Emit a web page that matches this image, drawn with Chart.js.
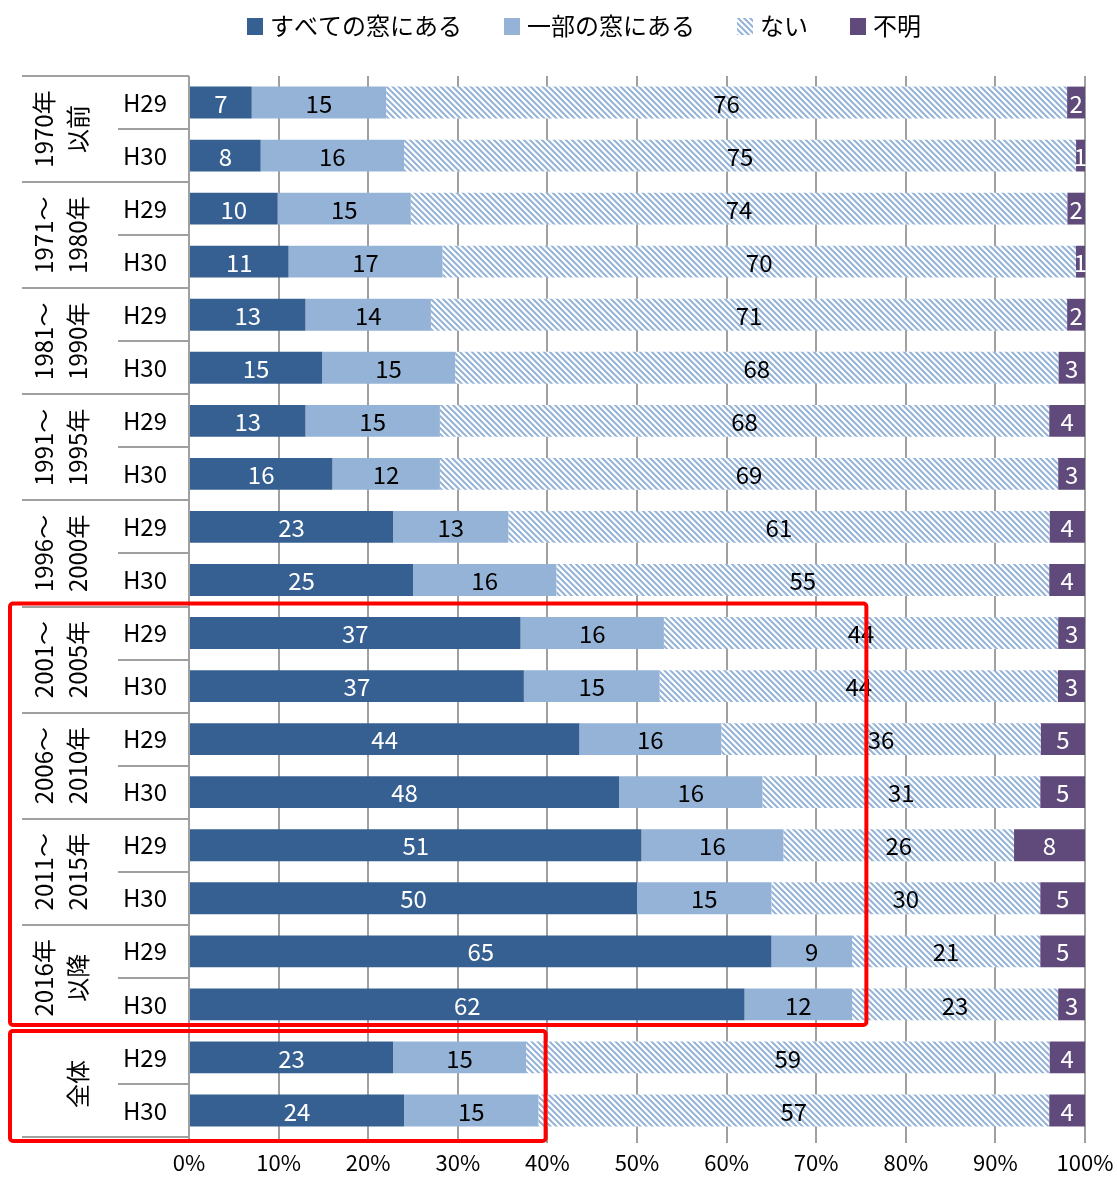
<!DOCTYPE html>
<html>
<head>
<meta charset="utf-8">
<script src="https://cdn.jsdelivr.net/npm/chart.js@4.4.0/dist/chart.umd.min.js"></script>
<style>
  html, body { margin: 0; padding: 0; background: #fff; }
</style>
</head>
<body>
<canvas id="chart" width="1117" height="1182"></canvas>
<script>
  // categories
  var groups = [
    ['1970年', '以前'],
    ['1971～', '1980年'],
    ['1981～', '1990年'],
    ['1991～', '1995年'],
    ['1996～', '2000年'],
    ['2001～', '2005年'],
    ['2006～', '2010年'],
    ['2011～', '2015年'],
    ['2016年', '以降'],
    ['全体']
  ];
  var years = ['H29', 'H30'];
  var seriesNames = ['すべての窓にある', '一部の窓にある', 'ない', '不明'];

  // values (%), two rows per group: H29, H30
  var allWindows  = [7, 8, 10, 11, 13, 15, 13, 16, 23, 25, 37, 37, 44, 48, 51, 50, 65, 62, 23, 24];
  var someWindows = [15, 16, 15, 17, 14, 15, 15, 12, 13, 16, 16, 15, 16, 16, 16, 15, 9, 12, 15, 15];
  var noWindows   = [76, 75, 74, 70, 71, 68, 68, 69, 61, 55, 44, 44, 36, 31, 26, 30, 21, 23, 59, 57];
  var unknown     = [2, 1, 2, 1, 2, 3, 4, 3, 4, 4, 3, 3, 5, 5, 8, 5, 5, 3, 4, 4];

  var xTicks = [0, 10, 20, 30, 40, 50, 60, 70, 80, 90, 100];

  var FONT = '"Noto Sans CJK JP", "Noto Sans", sans-serif';
  var colDark = '#376092', colLight = '#95b3d7', colHatch = '#95b3d7', colPurple = '#604a7b';
  var lineGray = '#a0a0a0';

  function makeHatch(color) {
    var s = 6, c = document.createElement('canvas');
    c.width = s; c.height = s;
    var g = c.getContext('2d');
    g.fillStyle = '#fff';
    g.fillRect(0, 0, s, s);
    g.strokeStyle = color;
    g.lineWidth = 2;
    g.beginPath();
    for (var k = -1; k <= 1; k++) {
      g.moveTo(-s, -s + k * s);
      g.lineTo(2 * s, 2 * s + k * s);
    }
    g.stroke();
    return g.createPattern(c, 'repeat');
  }

  var labels = [];
  groups.forEach(function () { years.forEach(function (y) { labels.push(y); }); });

  var raw = [allWindows, someWindows, noWindows, unknown];
  // 100% stacked: each row normalised by its own total
  var totals = labels.map(function (l, i) {
    return raw.reduce(function (s, arr) { return s + arr[i]; }, 0);
  });
  function pct(arr) { return arr.map(function (v, i) { return v / totals[i] * 100; }); }

  var fills = [colDark, colLight, makeHatch(colHatch), colPurple];
  var textColors = ['#fff', '#000', '#000', '#fff'];

  var datasets = raw.map(function (arr, i) {
    return {
      label: seriesNames[i],
      data: pct(arr),
      rawValues: arr,
      backgroundColor: fills[i],
      borderWidth: 0,
      barPercentage: 0.6,
      categoryPercentage: 1.0
    };
  });

  // value labels in the middle of every segment
  var valueLabels = {
    id: 'valueLabels',
    afterDatasetsDraw: function (chart) {
      var ctx = chart.ctx;
      ctx.save();
      ctx.font = '24px ' + FONT;
      ctx.textAlign = 'center';
      ctx.textBaseline = 'middle';
      chart.data.datasets.forEach(function (ds, di) {
        var meta = chart.getDatasetMeta(di);
        ctx.fillStyle = textColors[di];
        meta.data.forEach(function (bar, i) {
          ctx.fillText(String(ds.rawValues[i]), (bar.x + bar.base) / 2, bar.y + 1);
        });
      });
      ctx.restore();
    }
  };

  // group labels and separator lines on the left
  var groupAxis = {
    id: 'groupAxis',
    afterDraw: function (chart) {
      var ctx = chart.ctx, y = chart.scales.y, left = chart.chartArea.left;
      var step = y.getPixelForValue(1) - y.getPixelForValue(0);
      ctx.save();
      ctx.strokeStyle = lineGray;
      ctx.lineWidth = 2;
      for (var k = 0; k <= groups.length; k++) {
        var yy = Math.round(y.getPixelForValue(2 * k) - step / 2);
        ctx.beginPath(); ctx.moveTo(22, yy); ctx.lineTo(left, yy); ctx.stroke();
        if (k < groups.length) {
          var ym = Math.round(y.getPixelForValue(2 * k) + step / 2);
          ctx.beginPath(); ctx.moveTo(118, ym); ctx.lineTo(left, ym); ctx.stroke();
        }
      }
      ctx.fillStyle = '#000';
      ctx.font = '24px ' + FONT;
      ctx.textAlign = 'center';
      ctx.textBaseline = 'middle';
      groups.forEach(function (g, k) {
        var cy = (y.getPixelForValue(2 * k) + y.getPixelForValue(2 * k + 1)) / 2;
        var xs = g.length === 1 ? [78] : [44, 78];
        g.forEach(function (t, j) {
          ctx.save();
          ctx.translate(xs[j], cy);
          ctx.rotate(-Math.PI / 2);
          ctx.fillText(t, 0, 0);
          ctx.restore();
        });
      });
      ctx.restore();
    }
  };

  // legend across the top
  var topLegend = {
    id: 'topLegend',
    afterDraw: function (chart) {
      var ctx = chart.ctx, x = 247, cy = 26;
      ctx.save();
      ctx.font = '24px ' + FONT;
      ctx.textBaseline = 'middle';
      ctx.textAlign = 'left';
      chart.data.datasets.forEach(function (ds) {
        ctx.fillStyle = ds.backgroundColor;
        ctx.fillRect(x, cy - 8, 16, 17);
        ctx.fillStyle = '#000';
        ctx.fillText(ds.label, x + 23, cy);
        x += 23 + ctx.measureText(ds.label).width + 42;
      });
      ctx.restore();
    }
  };

  // red highlight frames
  var frames = {
    id: 'frames',
    afterDraw: function (chart) {
      var ctx = chart.ctx, y = chart.scales.y, xs = chart.scales.x;
      var step = y.getPixelForValue(1) - y.getPixelForValue(0);
      function edge(k) { return y.getPixelForValue(2 * k) - step / 2; }
      ctx.save();
      ctx.strokeStyle = '#ff0000';
      ctx.lineWidth = 4;
      ctx.beginPath();
      ctx.roundRect(10, edge(5) - 3, xs.getPixelForValue(75.6) - 10, edge(9) - 6 - (edge(5) - 3), 3);
      ctx.stroke();
      ctx.beginPath();
      ctx.roundRect(10, edge(9), xs.getPixelForValue(39.8) - 10, edge(10) + 4 - edge(9), 3);
      ctx.stroke();
      ctx.restore();
    }
  };

  Chart.defaults.font.family = FONT;

  new Chart(document.getElementById('chart'), {
    type: 'bar',
    data: { labels: labels, datasets: datasets },
    options: {
      indexAxis: 'y',
      responsive: false,
      animation: false,
      devicePixelRatio: 1,
      layout: { padding: { top: 76, right: 32, bottom: 0, left: 0 } },
      plugins: {
        legend: { display: false },
        tooltip: { enabled: false }
      },
      scales: {
        x: {
          stacked: true,
          min: 0,
          max: 100,
          afterBuildTicks: function (s) { s.ticks = xTicks.map(function (v) { return { value: v }; }); },
          afterFit: function (s) { s.height = 45; s.paddingLeft = 0; s.paddingRight = 0; },
          grid: { color: lineGray, lineWidth: 2, tickLength: 6, drawTicks: true },
          border: { display: false },
          ticks: {
            callback: function (v) { return v + '%'; },
            font: { size: 22 },
            color: '#000',
            padding: 6,
            maxRotation: 0,
            autoSkip: false
          }
        },
        y: {
          stacked: true,
          afterFit: function (s) { s.width = 189; },
          grid: { display: false, drawTicks: false },
          border: { display: false },
          ticks: { font: { size: 24 }, color: '#000', padding: 22, autoSkip: false }
        }
      }
    },
    plugins: [valueLabels, groupAxis, topLegend, frames]
  });
</script>
</body>
</html>
